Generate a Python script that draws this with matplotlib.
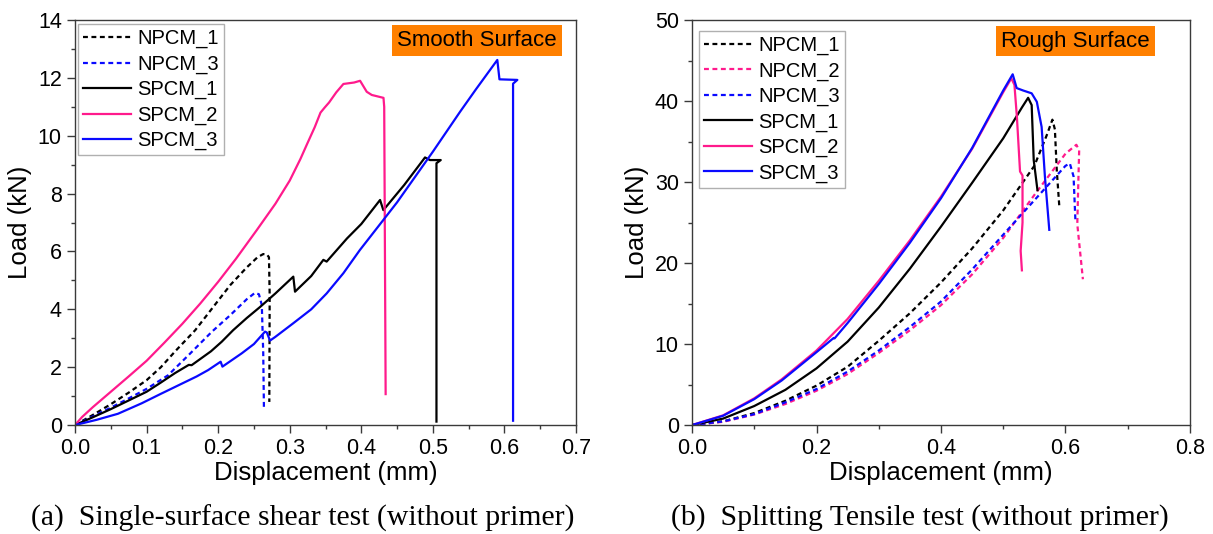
import matplotlib
matplotlib.use('Agg')
import matplotlib.pyplot as plt
from matplotlib.ticker import MultipleLocator, FormatStrFormatter

plt.rcParams['font.family'] = ['Liberation Sans', 'DejaVu Sans']

# (a) single-surface shear test, smooth surface
shear_npcm1_x = [0, 0.025, 0.05, 0.075, 0.10, 0.12, 0.14, 0.168, 0.20, 0.217, 0.24, 0.255,
                 0.263, 0.268, 0.271, 0.272, 0.2715]
shear_npcm1_y = [0, 0.35, 0.72, 1.12, 1.55, 2.00, 2.55, 3.28, 4.30, 4.84, 5.45, 5.80,
                 5.91, 5.90, 5.80, 4.5, 0.8]
shear_npcm3_x = [0, 0.025, 0.05, 0.075, 0.10, 0.13, 0.16, 0.191, 0.217, 0.24, 0.2515,
                 0.257, 0.261, 0.263, 0.264]
shear_npcm3_y = [0, 0.30, 0.60, 0.92, 1.25, 1.72, 2.45, 3.22, 3.80, 4.35, 4.57,
                 4.52, 4.15, 2.5, 0.55]
shear_spcm1_x = [0, 0.025, 0.05, 0.075, 0.10, 0.12, 0.14, 0.159, 0.163, 0.19, 0.205,
                 0.221, 0.24, 0.2585, 0.28, 0.305, 0.3074, 0.33, 0.347, 0.3516, 0.38,
                 0.40, 0.4262, 0.4308, 0.46, 0.489, 0.496, 0.511, 0.505, 0.505]
shear_spcm1_y = [0, 0.27, 0.55, 0.85, 1.15, 1.47, 1.80, 2.08, 2.07, 2.55, 2.88,
                 3.28, 3.70, 4.08, 4.55, 5.13, 4.61, 5.15, 5.71, 5.65, 6.45,
                 6.95, 7.78, 7.43, 8.30, 9.25, 9.16, 9.16, 9.05, 0.12]
shear_spcm2_x = [0, 0.01, 0.025, 0.05, 0.075, 0.10, 0.125, 0.15, 0.175, 0.20, 0.225,
                 0.254, 0.28, 0.30, 0.315, 0.324, 0.335, 0.343, 0.349, 0.355, 0.365,
                 0.375, 0.39, 0.3983, 0.4076, 0.4146, 0.431, 0.432, 0.434]
shear_spcm2_y = [0, 0.28, 0.62, 1.15, 1.68, 2.22, 2.85, 3.50, 4.20, 4.95, 5.75,
                 6.74, 7.65, 8.45, 9.20, 9.70, 10.30, 10.80, 10.98, 11.15, 11.50,
                 11.79, 11.84, 11.90, 11.52, 11.41, 11.31, 11.0, 1.07]
shear_spcm3_x = [0, 0.03, 0.06, 0.093, 0.12, 0.14, 0.17, 0.186, 0.2035, 0.206, 0.233,
                 0.25, 0.2655, 0.268, 0.2725, 0.28, 0.305, 0.33, 0.3516, 0.375, 0.398,
                 0.4308, 0.45, 0.50, 0.538, 0.56, 0.59, 0.593, 0.618, 0.612, 0.612]
shear_spcm3_y = [0, 0.18, 0.39, 0.75, 1.08, 1.32, 1.68, 1.90, 2.19, 2.02, 2.48,
                 2.80, 3.23, 3.20, 2.92, 3.05, 3.52, 4.00, 4.55, 5.25, 6.05,
                 7.09, 7.70, 9.45, 10.83, 11.60, 12.62, 11.95, 11.93, 11.80, 0.15]

# (b) splitting tensile test, rough surface
split_npcm1_x = [0, 0.05, 0.10, 0.15, 0.20, 0.25, 0.30, 0.35, 0.40, 0.45, 0.50, 0.55,
                 0.57, 0.579, 0.583, 0.586, 0.590]
split_npcm1_y = [0, 0.45, 1.48, 3.00, 4.87, 7.20, 10.4, 13.8, 17.6, 21.8, 26.5, 32.0,
                 35.8, 37.7, 36.5, 31.5, 27.1]
split_npcm2_x = [0, 0.05, 0.10, 0.15, 0.20, 0.25, 0.30, 0.35, 0.40, 0.45, 0.50, 0.55,
                 0.60, 0.6175, 0.622, 0.620, 0.619, 0.628]
split_npcm2_y = [0, 0.40, 1.30, 2.60, 4.24, 6.30, 8.90, 11.7, 14.8, 18.6, 23.1, 28.4,
                 33.5, 34.6, 33.9, 28.0, 24.8, 18.0]
split_npcm3_x = [0, 0.05, 0.10, 0.15, 0.20, 0.25, 0.30, 0.35, 0.40, 0.45, 0.50, 0.55,
                 0.60, 0.607, 0.613, 0.616]
split_npcm3_y = [0, 0.45, 1.35, 2.80, 4.45, 6.60, 9.20, 12.1, 15.25, 19.2, 23.5, 27.75,
                 32.0, 32.3, 30.7, 25.2]
split_spcm1_x = [0, 0.05, 0.10, 0.15, 0.20, 0.25, 0.30, 0.35, 0.40, 0.45, 0.50, 0.530,
                 0.540, 0.5457, 0.547, 0.549, 0.555]
split_spcm1_y = [0, 0.80, 2.35, 4.35, 7.00, 10.3, 14.5, 19.3, 24.5, 29.9, 35.4, 39.2,
                 40.4, 39.5, 36.8, 32.7, 29.0]
split_spcm2_x = [0, 0.05, 0.10, 0.144, 0.20, 0.25, 0.30, 0.35, 0.40, 0.45, 0.50, 0.513,
                 0.518, 0.522, 0.527, 0.531, 0.531, 0.528, 0.530]
split_spcm2_y = [0, 1.20, 3.30, 5.64, 9.20, 13.1, 17.8, 22.8, 28.2, 34.1, 41.1, 42.8,
                 42.0, 38.0, 31.3, 30.8, 25.0, 21.5, 19.1]
split_spcm3_x = [0, 0.05, 0.10, 0.144, 0.20, 0.2276, 0.229, 0.25, 0.30, 0.35, 0.40, 0.45,
                 0.50, 0.5152, 0.5216, 0.532, 0.5457, 0.554, 0.5617, 0.567, 0.574]
split_spcm3_y = [0, 1.15, 3.20, 5.50, 9.00, 10.75, 10.70, 12.6, 17.4, 22.5, 28.0, 34.2,
                 41.3, 43.3, 41.6, 41.3, 40.95, 39.9, 36.8, 30.65, 24.1]

black = '#000000'
pink = '#FF1A8C'
blue = '#0A0AFF'
dash = (0, (2.2, 1.6))
lw = 1.6

fig = plt.figure(figsize=(12.13, 5.34), dpi=100)
ax1 = fig.add_axes([0.0618, 0.204, 0.4131, 0.7585])
ax2 = fig.add_axes([0.5705, 0.204, 0.4105, 0.7585])

ax1.plot(shear_npcm1_x, shear_npcm1_y, color=black, ls=dash, lw=lw, label='NPCM_1')
ax1.plot(shear_npcm3_x, shear_npcm3_y, color=blue, ls=dash, lw=lw, label='NPCM_3')
ax1.plot(shear_spcm1_x, shear_spcm1_y, color=black, lw=lw, label='SPCM_1')
ax1.plot(shear_spcm2_x, shear_spcm2_y, color=pink, lw=lw, label='SPCM_2')
ax1.plot(shear_spcm3_x, shear_spcm3_y, color=blue, lw=lw, label='SPCM_3')

ax2.plot(split_npcm1_x, split_npcm1_y, color=black, ls=dash, lw=lw, label='NPCM_1')
ax2.plot(split_npcm2_x, split_npcm2_y, color=pink, ls=dash, lw=lw, label='NPCM_2')
ax2.plot(split_npcm3_x, split_npcm3_y, color=blue, ls=dash, lw=lw, label='NPCM_3')
ax2.plot(split_spcm1_x, split_spcm1_y, color=black, lw=lw, label='SPCM_1')
ax2.plot(split_spcm2_x, split_spcm2_y, color=pink, lw=lw, label='SPCM_2')
ax2.plot(split_spcm3_x, split_spcm3_y, color=blue, lw=lw, label='SPCM_3')

ax1.set_xlim(0, 0.7)
ax1.set_ylim(0, 14)
ax1.xaxis.set_major_locator(MultipleLocator(0.1))
ax1.xaxis.set_minor_locator(MultipleLocator(0.05))
ax1.yaxis.set_major_locator(MultipleLocator(2))
ax1.yaxis.set_minor_locator(MultipleLocator(1))

ax2.set_xlim(0, 0.8)
ax2.set_ylim(0, 50)
ax2.xaxis.set_major_locator(MultipleLocator(0.2))
ax2.xaxis.set_minor_locator(MultipleLocator(0.1))
ax2.yaxis.set_major_locator(MultipleLocator(10))
ax2.yaxis.set_minor_locator(MultipleLocator(5))

# legend anchor and label box position (axes fractions) for each panel
panels = [(ax1, 'Smooth Surface', (0.006, 0.99), (0.802, 0.949)),
          (ax2, 'Rough Surface', (0.014, 0.973), (0.770, 0.948))]

for ax, tag, leg_anchor, tag_xy in panels:
    for sp in ax.spines.values():
        sp.set_color('#3a3a3a')
        sp.set_linewidth(1.0)
    ax.tick_params(which='major', direction='out', length=6, width=1.0,
                   color='#3a3a3a', labelsize=15.5, top=False, right=False)
    ax.tick_params(which='minor', direction='out', length=3, width=1.0,
                   color='#3a3a3a', top=False, right=False)
    ax.xaxis.set_major_formatter(FormatStrFormatter('%.1f'))
    ax.set_xlabel('Displacement (mm)', fontsize=18.5, labelpad=1)
    ax.set_ylabel('Load (kN)', fontsize=18.5, labelpad=4)
    leg = ax.legend(loc='upper left', bbox_to_anchor=leg_anchor, fontsize=14.5,
                    frameon=True, fancybox=False, framealpha=1, edgecolor='#b0b0b0',
                    handlelength=2.4, handletextpad=0.3, labelspacing=0.31,
                    borderpad=0.25, borderaxespad=0.0)
    leg.get_frame().set_linewidth(1.0)
    ax.text(tag_xy[0], tag_xy[1], tag, transform=ax.transAxes, ha='center', va='center',
            fontsize=16, color='black',
            bbox=dict(boxstyle='square,pad=0.22', facecolor='#FF8000', edgecolor='none'))

fig.text(0.2495, 0.03, '(a)  Single-surface shear test (without primer)', ha='center',
         va='center', fontsize=21.4, family=['Liberation Serif', 'DejaVu Serif'])
fig.text(0.7585, 0.03, '(b)  Splitting Tensile test (without primer)', ha='center',
         va='center', fontsize=21.4, family=['Liberation Serif', 'DejaVu Serif'])

fig.savefig('out.png', dpi=100)
